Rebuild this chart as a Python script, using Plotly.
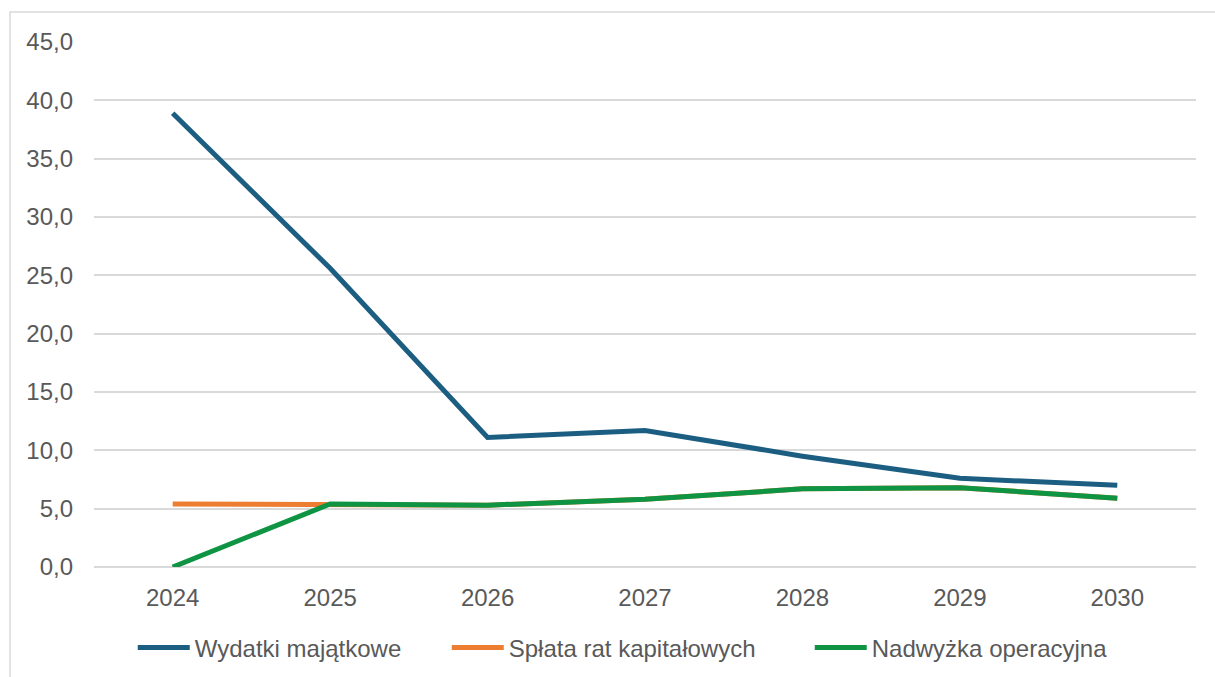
import plotly.graph_objects as go

years = ["2024", "2025", "2026", "2027", "2028", "2029", "2030"]
wydatki = [38.9, 25.6, 11.1, 11.7, 9.5, 7.6, 7.0]
splata = [5.4, 5.4, 5.3, 5.8, 6.7, 6.8, 5.9]
nadwyzka = [0.0, 5.4, 5.3, 5.8, 6.7, 6.8, 5.9]
y_ticks = [0, 5, 10, 15, 20, 25, 30, 35, 40, 45]

font_family = "Liberation Sans, Arial, sans-serif"
text_color = "#595959"
grid_color = "#D9D9D9"

PLOT_L = 94.25
PLOT_W = 1102.0

def px_to_paper(px):
    return (px - PLOT_L) / PLOT_W

fig = go.Figure()
fig.add_trace(go.Scatter(x=years, y=wydatki, mode="lines", name="Wydatki majątkowe",
                         line=dict(color="#1B5E82", width=5), legend="legend"))
fig.add_trace(go.Scatter(x=years, y=splata, mode="lines", name="Spłata rat kapitałowych",
                         line=dict(color="#ED7D31", width=5), legend="legend2"))
fig.add_trace(go.Scatter(x=years, y=nadwyzka, mode="lines", name="Nadwyżka operacyjna",
                         line=dict(color="#0F9443", width=5), legend="legend3"))

leg_common = dict(orientation="h", xanchor="left", y=-0.154, yanchor="middle",
                  font=dict(size=24, color=text_color), itemwidth=52,
                  bgcolor="rgba(0,0,0,0)", borderwidth=0)

fig.update_layout(
    width=1215, height=677,
    margin=dict(l=94, r=19, t=42, b=110, autoexpand=False),
    paper_bgcolor="white", plot_bgcolor="white",
    separators=", ",
    font=dict(family=font_family, size=24, color=text_color),
    showlegend=True,
    legend=dict(x=px_to_paper(133), **leg_common),
    legend2=dict(x=px_to_paper(447), **leg_common),
    legend3=dict(x=px_to_paper(810), **leg_common),
    shapes=[dict(type="rect", xref="paper", yref="paper",
                 x0=-84 / 1102, x1=1.1, y0=-0.3, y1=1 + 30 / 525,
                 line=dict(color=grid_color, width=1.5), fillcolor="rgba(0,0,0,0)",
                 layer="below")],
)
fig.update_xaxes(type="category", range=[-0.5, 6.5], showgrid=False, showline=False,
                 zeroline=False, ticks="", tickfont=dict(size=24, color=text_color),
                 ticklabelstandoff=14)
fig.update_yaxes(range=[0, 45], tickvals=y_ticks, tickformat=".1f",
                 showgrid=True, gridcolor=grid_color, gridwidth=1.5,
                 zeroline=True, zerolinecolor=grid_color, zerolinewidth=1.5,
                 showline=False, ticks="", tickfont=dict(size=24, color=text_color),
                 ticklabelstandoff=20)

fig.write_html("out.html", config={"displayModeBar": False},
               post_script="document.body.style.margin='0';")
